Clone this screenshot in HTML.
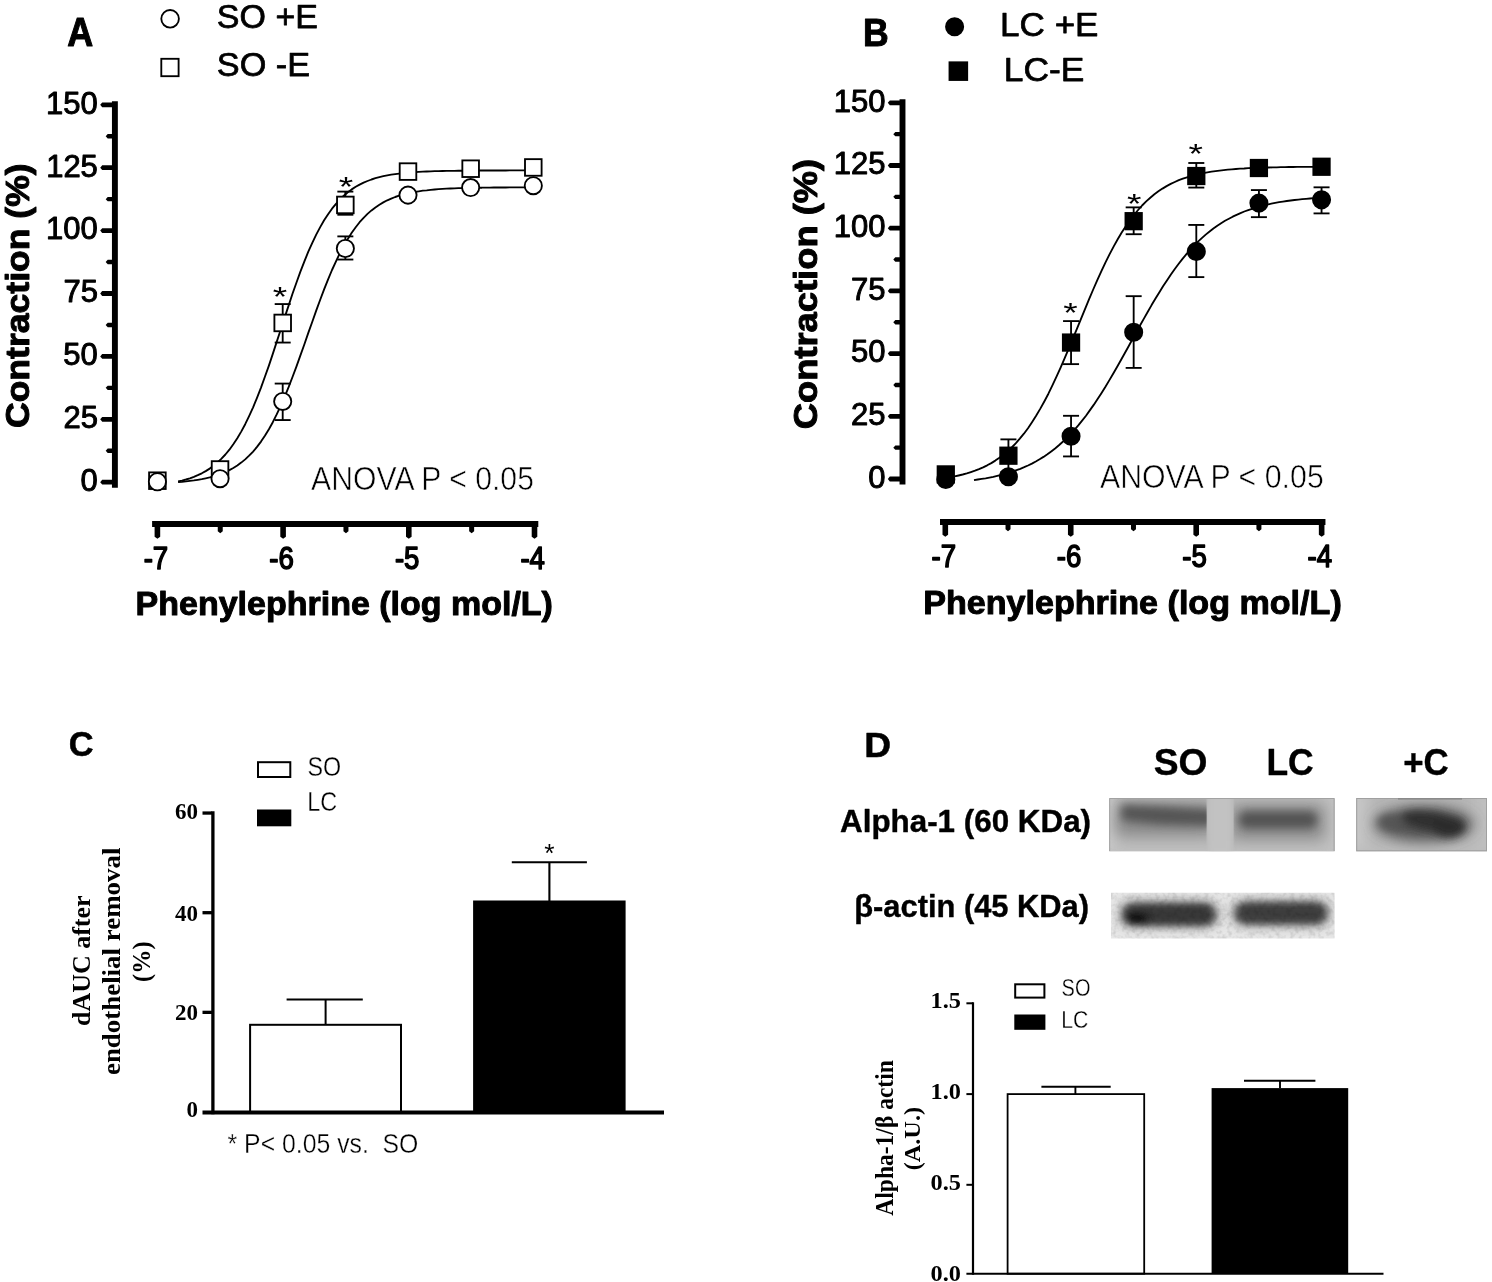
<!DOCTYPE html>
<html lang="en">
<head>
<meta charset="utf-8">
<title>Figure: Phenylephrine contraction curves, dAUC and Alpha-1 expression</title>
<style>
html,body{margin:0;padding:0;background:#fff;}
body{width:1492px;height:1282px;overflow:hidden;}
svg{display:block;}
text{font-family:"Liberation Sans", Arial, Helvetica, sans-serif;fill:#000;}
text.se{font-family:"Liberation Serif", "Times New Roman", Times, serif;}
text.b{font-weight:700;}
</style>
</head>
<body>
<svg width="1492" height="1282" viewBox="0 0 1492 1282" role="img" aria-label="Four panel figure: phenylephrine concentration-response curves (A, B), dAUC after endothelial removal (C) and Alpha-1 receptor western blot with densitometry (D)">
<rect width="1492" height="1282" fill="#fff"/>
<text class="sa b" x="67.20" y="46.00" font-size="40" textLength="25.98" lengthAdjust="spacingAndGlyphs" stroke="#000" stroke-width="1.0" stroke-linejoin="round">A</text>
<circle cx="170.10" cy="18.80" r="8.80" fill="#fff" stroke="#000" stroke-width="1.85"/>
<rect x="161.30" y="58.80" width="17.30" height="17.40" fill="#fff" stroke="#000" stroke-width="1.85"/>
<text class="sa" x="216.87" y="27.50" font-size="34" textLength="101.03" lengthAdjust="spacingAndGlyphs" stroke="#000" stroke-width="0.75" stroke-linejoin="round">SO +E</text>
<text class="sa" x="216.86" y="76.00" font-size="34" textLength="93.20" lengthAdjust="spacingAndGlyphs" stroke="#000" stroke-width="0.75" stroke-linejoin="round">SO -E</text>
<line x1="114.90" y1="101.30" x2="114.90" y2="487.70" stroke="#000" stroke-width="5.9" stroke-linecap="butt"/>
<path d="M114.90,479.80 L102.20,479.80 L100.20,482.20 L102.20,484.60 L114.90,484.60Z" fill="#000"/>
<text class="sa" x="80.56" y="491.00" font-size="31" textLength="17.24" lengthAdjust="spacingAndGlyphs" stroke="#000" stroke-width="0.95" stroke-linejoin="round">0</text>
<path d="M114.90,416.90 L102.20,416.90 L100.20,419.30 L102.20,421.70 L114.90,421.70Z" fill="#000"/>
<text class="sa" x="63.43" y="428.10" font-size="31" textLength="34.48" lengthAdjust="spacingAndGlyphs" stroke="#000" stroke-width="0.95" stroke-linejoin="round">25</text>
<path d="M114.90,354.00 L102.20,354.00 L100.20,356.40 L102.20,358.80 L114.90,358.80Z" fill="#000"/>
<text class="sa" x="63.35" y="365.20" font-size="31" textLength="34.48" lengthAdjust="spacingAndGlyphs" stroke="#000" stroke-width="0.95" stroke-linejoin="round">50</text>
<path d="M114.90,291.10 L102.20,291.10 L100.20,293.50 L102.20,295.90 L114.90,295.90Z" fill="#000"/>
<text class="sa" x="63.43" y="302.30" font-size="31" textLength="34.48" lengthAdjust="spacingAndGlyphs" stroke="#000" stroke-width="0.95" stroke-linejoin="round">75</text>
<path d="M114.90,228.20 L102.20,228.20 L100.20,230.60 L102.20,233.00 L114.90,233.00Z" fill="#000"/>
<text class="sa" x="46.07" y="239.40" font-size="31" textLength="51.72" lengthAdjust="spacingAndGlyphs" stroke="#000" stroke-width="0.95" stroke-linejoin="round">100</text>
<path d="M114.90,165.30 L102.20,165.30 L100.20,167.70 L102.20,170.10 L114.90,170.10Z" fill="#000"/>
<text class="sa" x="46.15" y="176.50" font-size="31" textLength="51.72" lengthAdjust="spacingAndGlyphs" stroke="#000" stroke-width="0.95" stroke-linejoin="round">125</text>
<path d="M114.90,102.40 L102.20,102.40 L100.20,104.80 L102.20,107.20 L114.90,107.20Z" fill="#000"/>
<text class="sa" x="46.07" y="113.60" font-size="31" textLength="51.72" lengthAdjust="spacingAndGlyphs" stroke="#000" stroke-width="0.95" stroke-linejoin="round">150</text>
<path d="M114.90,448.55 L107.70,448.55 L105.70,450.75 L107.70,452.95 L114.90,452.95Z" fill="#000"/>
<path d="M114.90,385.65 L107.70,385.65 L105.70,387.85 L107.70,390.05 L114.90,390.05Z" fill="#000"/>
<path d="M114.90,322.75 L107.70,322.75 L105.70,324.95 L107.70,327.15 L114.90,327.15Z" fill="#000"/>
<path d="M114.90,259.85 L107.70,259.85 L105.70,262.05 L107.70,264.25 L114.90,264.25Z" fill="#000"/>
<path d="M114.90,196.95 L107.70,196.95 L105.70,199.15 L107.70,201.35 L114.90,201.35Z" fill="#000"/>
<path d="M114.90,134.05 L107.70,134.05 L105.70,136.25 L107.70,138.45 L114.90,138.45Z" fill="#000"/>
<line x1="152.10" y1="524.00" x2="538.30" y2="524.00" stroke="#000" stroke-width="5.9" stroke-linecap="butt"/>
<path d="M154.60,524.00 L154.60,536.80 L157.40,538.80 L160.20,536.80 L160.20,524.00Z" fill="#000"/>
<text class="sa" x="143.63" y="569.40" font-size="31" textLength="24.53" lengthAdjust="spacingAndGlyphs" stroke="#000" stroke-width="1.5" stroke-linejoin="round">-7</text>
<path d="M280.30,524.00 L280.30,536.80 L283.10,538.80 L285.90,536.80 L285.90,524.00Z" fill="#000"/>
<text class="sa" x="269.22" y="569.40" font-size="31" textLength="24.53" lengthAdjust="spacingAndGlyphs" stroke="#000" stroke-width="1.5" stroke-linejoin="round">-6</text>
<path d="M406.00,524.00 L406.00,536.80 L408.80,538.80 L411.60,536.80 L411.60,524.00Z" fill="#000"/>
<text class="sa" x="394.89" y="569.40" font-size="31" textLength="24.53" lengthAdjust="spacingAndGlyphs" stroke="#000" stroke-width="1.5" stroke-linejoin="round">-5</text>
<path d="M531.70,524.00 L531.70,536.80 L534.50,538.80 L537.30,536.80 L537.30,524.00Z" fill="#000"/>
<text class="sa" x="520.42" y="569.40" font-size="31" textLength="24.53" lengthAdjust="spacingAndGlyphs" stroke="#000" stroke-width="1.5" stroke-linejoin="round">-4</text>
<path d="M217.75,524.00 L217.75,531.30 L220.25,533.30 L222.75,531.30 L222.75,524.00Z" fill="#000"/>
<path d="M343.45,524.00 L343.45,531.30 L345.95,533.30 L348.45,531.30 L348.45,524.00Z" fill="#000"/>
<path d="M469.15,524.00 L469.15,531.30 L471.65,533.30 L474.15,531.30 L474.15,524.00Z" fill="#000"/>
<text class="sa b" transform="translate(28.60 428.02) rotate(-90)" font-size="34" textLength="264.66" lengthAdjust="spacingAndGlyphs" stroke="#000" stroke-width="1.0" stroke-linejoin="round">Contraction (%)</text>
<text class="sa b" x="135.61" y="615.00" font-size="34" textLength="417.34" lengthAdjust="spacingAndGlyphs" stroke="#000" stroke-width="1.0" stroke-linejoin="round">Phenylephrine (log mol/L)</text>
<path d="M178.1,482.1 L182.0,481.8 L186.0,481.4 L189.9,480.9 L193.9,480.4 L197.8,479.8 L201.8,479.1 L205.7,478.3 L209.7,477.4 L213.6,476.3 L217.5,475.1 L221.5,473.7 L225.4,472.0 L229.4,470.1 L233.3,468.0 L237.3,465.5 L241.2,462.6 L245.2,459.4 L249.1,455.7 L253.1,451.6 L257.0,446.9 L261.0,441.6 L264.9,435.8 L268.9,429.3 L272.8,422.2 L276.7,414.4 L280.7,405.9 L284.6,396.9 L288.6,387.2 L292.5,377.0 L296.5,366.4 L300.4,355.4 L304.4,344.2 L308.3,332.9 L312.3,321.7 L316.2,310.6 L320.2,299.8 L324.1,289.4 L328.1,279.4 L332.0,270.0 L336.0,261.3 L339.9,253.1 L343.8,245.7 L347.8,238.9 L351.7,232.7 L355.7,227.2 L359.6,222.2 L363.6,217.8 L367.5,213.9 L371.5,210.4 L375.4,207.4 L379.4,204.7 L383.3,202.4 L387.3,200.3 L391.2,198.6 L395.2,197.0 L399.1,195.7 L403.1,194.5 L407.0,193.5 L410.9,192.7 L414.9,191.9 L418.8,191.3 L422.8,190.7 L426.7,190.3 L430.7,189.8 L434.6,189.5 L438.6,189.2 L442.5,188.9 L446.5,188.7 L450.4,188.5 L454.4,188.3 L458.3,188.2 L462.3,188.1 L466.2,188.0 L470.1,187.9 L474.1,187.8 L478.0,187.7 L482.0,187.7 L485.9,187.6 L489.9,187.6 L493.8,187.5 L497.8,187.5 L501.7,187.5 L505.7,187.5 L509.6,187.4 L513.6,187.4 L517.5,187.4 L521.5,187.4 L525.4,187.4 L529.4,187.4 L533.3,187.4" fill="none" stroke="#000" stroke-width="1.85" stroke-linejoin="round"/>
<path d="M178.1,481.5 L182.0,480.6 L186.0,479.5 L189.9,478.3 L193.9,476.8 L197.8,475.2 L201.8,473.3 L205.7,471.1 L209.7,468.6 L213.6,465.7 L217.5,462.5 L221.5,458.7 L225.4,454.5 L229.4,449.7 L233.3,444.3 L237.3,438.3 L241.2,431.6 L245.2,424.2 L249.1,416.1 L253.1,407.3 L257.0,397.8 L261.0,387.6 L264.9,376.8 L268.9,365.6 L272.8,353.9 L276.7,341.9 L280.7,329.7 L284.6,317.6 L288.6,305.6 L292.5,293.8 L296.5,282.5 L300.4,271.6 L304.4,261.3 L308.3,251.7 L312.3,242.8 L316.2,234.6 L320.2,227.1 L324.1,220.3 L328.1,214.2 L332.0,208.7 L336.0,203.8 L339.9,199.5 L343.8,195.7 L347.8,192.3 L351.7,189.4 L355.7,186.8 L359.6,184.6 L363.6,182.6 L367.5,181.0 L371.5,179.5 L375.4,178.2 L379.4,177.1 L383.3,176.2 L387.3,175.4 L391.2,174.7 L395.2,174.1 L399.1,173.6 L403.1,173.1 L407.0,172.7 L410.9,172.4 L414.9,172.1 L418.8,171.9 L422.8,171.7 L426.7,171.5 L430.7,171.3 L434.6,171.2 L438.6,171.1 L442.5,171.0 L446.5,170.9 L450.4,170.8 L454.4,170.8 L458.3,170.7 L462.3,170.7 L466.2,170.6 L470.1,170.6 L474.1,170.6 L478.0,170.5 L482.0,170.5 L485.9,170.5 L489.9,170.5 L493.8,170.5 L497.8,170.5 L501.7,170.5 L505.7,170.5 L509.6,170.4 L513.6,170.4 L517.5,170.4 L521.5,170.4 L525.4,170.4 L529.4,170.4 L533.3,170.4" fill="none" stroke="#000" stroke-width="1.85" stroke-linejoin="round"/>
<line x1="282.70" y1="304.07" x2="282.70" y2="342.56" stroke="#000" stroke-width="1.85" stroke-linecap="butt"/>
<line x1="274.70" y1="304.07" x2="290.70" y2="304.07" stroke="#000" stroke-width="1.85" stroke-linecap="butt"/>
<line x1="274.70" y1="342.56" x2="290.70" y2="342.56" stroke="#000" stroke-width="1.85" stroke-linecap="butt"/>
<line x1="345.35" y1="191.60" x2="345.35" y2="214.75" stroke="#000" stroke-width="1.85" stroke-linecap="butt"/>
<line x1="337.35" y1="191.60" x2="353.35" y2="191.60" stroke="#000" stroke-width="1.85" stroke-linecap="butt"/>
<line x1="337.35" y1="214.75" x2="353.35" y2="214.75" stroke="#000" stroke-width="1.85" stroke-linecap="butt"/>
<rect x="149.10" y="472.39" width="16.60" height="16.60" fill="#fff" stroke="#000" stroke-width="1.85"/>
<rect x="211.75" y="461.19" width="16.60" height="16.60" fill="#fff" stroke="#000" stroke-width="1.85"/>
<rect x="274.40" y="314.64" width="16.60" height="16.60" fill="#fff" stroke="#000" stroke-width="1.85"/>
<rect x="337.05" y="196.64" width="16.60" height="16.60" fill="#fff" stroke="#000" stroke-width="1.85"/>
<rect x="399.70" y="163.30" width="16.60" height="16.60" fill="#fff" stroke="#000" stroke-width="1.85"/>
<rect x="462.35" y="160.41" width="16.60" height="16.60" fill="#fff" stroke="#000" stroke-width="1.85"/>
<rect x="525.00" y="159.15" width="16.60" height="16.60" fill="#fff" stroke="#000" stroke-width="1.85"/>
<line x1="282.70" y1="383.57" x2="282.70" y2="420.05" stroke="#000" stroke-width="1.85" stroke-linecap="butt"/>
<line x1="274.70" y1="383.57" x2="290.70" y2="383.57" stroke="#000" stroke-width="1.85" stroke-linecap="butt"/>
<line x1="274.70" y1="420.05" x2="290.70" y2="420.05" stroke="#000" stroke-width="1.85" stroke-linecap="butt"/>
<line x1="345.35" y1="236.39" x2="345.35" y2="259.53" stroke="#000" stroke-width="1.85" stroke-linecap="butt"/>
<line x1="337.35" y1="236.39" x2="353.35" y2="236.39" stroke="#000" stroke-width="1.85" stroke-linecap="butt"/>
<line x1="337.35" y1="259.53" x2="353.35" y2="259.53" stroke="#000" stroke-width="1.85" stroke-linecap="butt"/>
<circle cx="157.40" cy="481.70" r="8.60" fill="#fff" stroke="#000" stroke-width="1.85"/>
<circle cx="220.05" cy="478.68" r="8.60" fill="#fff" stroke="#000" stroke-width="1.85"/>
<circle cx="282.70" cy="401.44" r="8.60" fill="#fff" stroke="#000" stroke-width="1.85"/>
<circle cx="345.35" cy="248.46" r="8.60" fill="#fff" stroke="#000" stroke-width="1.85"/>
<circle cx="408.00" cy="195.12" r="8.60" fill="#fff" stroke="#000" stroke-width="1.85"/>
<circle cx="470.65" cy="187.58" r="8.60" fill="#fff" stroke="#000" stroke-width="1.85"/>
<circle cx="533.30" cy="185.69" r="8.60" fill="#fff" stroke="#000" stroke-width="1.85"/>
<text class="sa" x="272.65" y="305.65" font-size="28.00" textLength="14.47" lengthAdjust="spacingAndGlyphs">*</text>
<text class="sa" x="338.65" y="195.55" font-size="28.00" textLength="14.47" lengthAdjust="spacingAndGlyphs">*</text>
<text class="sa" x="311.12" y="489.80" font-size="32.5" textLength="222.84" lengthAdjust="spacingAndGlyphs" stroke="#fff" stroke-width="0.6" paint-order="fill">ANOVA P &lt; 0.05</text>
<text class="sa b" x="862.90" y="46.20" font-size="38" textLength="25.69" lengthAdjust="spacingAndGlyphs" stroke="#000" stroke-width="1.0" stroke-linejoin="round">B</text>
<circle cx="954.60" cy="26.70" r="8.60" fill="#000" stroke="#000" stroke-width="1.85"/>
<rect x="949.50" y="62.30" width="17.70" height="17.70" fill="#000" stroke="#000" stroke-width="1.85"/>
<text class="sa" x="1000.11" y="36.40" font-size="34" textLength="98.37" lengthAdjust="spacingAndGlyphs" stroke="#000" stroke-width="0.75" stroke-linejoin="round">LC +E</text>
<text class="sa" x="1003.88" y="80.90" font-size="34" textLength="80.56" lengthAdjust="spacingAndGlyphs" stroke="#000" stroke-width="0.75" stroke-linejoin="round">LC-E</text>
<line x1="902.50" y1="99.30" x2="902.50" y2="484.50" stroke="#000" stroke-width="5.9" stroke-linecap="butt"/>
<path d="M902.50,476.60 L889.80,476.60 L887.80,479.00 L889.80,481.40 L902.50,481.40Z" fill="#000"/>
<text class="sa" x="868.16" y="487.80" font-size="31" textLength="17.24" lengthAdjust="spacingAndGlyphs" stroke="#000" stroke-width="0.95" stroke-linejoin="round">0</text>
<path d="M902.50,413.90 L889.80,413.90 L887.80,416.30 L889.80,418.70 L902.50,418.70Z" fill="#000"/>
<text class="sa" x="851.03" y="425.10" font-size="31" textLength="34.48" lengthAdjust="spacingAndGlyphs" stroke="#000" stroke-width="0.95" stroke-linejoin="round">25</text>
<path d="M902.50,351.20 L889.80,351.20 L887.80,353.60 L889.80,356.00 L902.50,356.00Z" fill="#000"/>
<text class="sa" x="850.95" y="362.40" font-size="31" textLength="34.48" lengthAdjust="spacingAndGlyphs" stroke="#000" stroke-width="0.95" stroke-linejoin="round">50</text>
<path d="M902.50,288.50 L889.80,288.50 L887.80,290.90 L889.80,293.30 L902.50,293.30Z" fill="#000"/>
<text class="sa" x="851.03" y="299.70" font-size="31" textLength="34.48" lengthAdjust="spacingAndGlyphs" stroke="#000" stroke-width="0.95" stroke-linejoin="round">75</text>
<path d="M902.50,225.80 L889.80,225.80 L887.80,228.20 L889.80,230.60 L902.50,230.60Z" fill="#000"/>
<text class="sa" x="833.67" y="237.00" font-size="31" textLength="51.72" lengthAdjust="spacingAndGlyphs" stroke="#000" stroke-width="0.95" stroke-linejoin="round">100</text>
<path d="M902.50,163.10 L889.80,163.10 L887.80,165.50 L889.80,167.90 L902.50,167.90Z" fill="#000"/>
<text class="sa" x="833.75" y="174.30" font-size="31" textLength="51.72" lengthAdjust="spacingAndGlyphs" stroke="#000" stroke-width="0.95" stroke-linejoin="round">125</text>
<path d="M902.50,100.40 L889.80,100.40 L887.80,102.80 L889.80,105.20 L902.50,105.20Z" fill="#000"/>
<text class="sa" x="833.67" y="111.60" font-size="31" textLength="51.72" lengthAdjust="spacingAndGlyphs" stroke="#000" stroke-width="0.95" stroke-linejoin="round">150</text>
<path d="M902.50,445.45 L895.30,445.45 L893.30,447.65 L895.30,449.85 L902.50,449.85Z" fill="#000"/>
<path d="M902.50,382.75 L895.30,382.75 L893.30,384.95 L895.30,387.15 L902.50,387.15Z" fill="#000"/>
<path d="M902.50,320.05 L895.30,320.05 L893.30,322.25 L895.30,324.45 L902.50,324.45Z" fill="#000"/>
<path d="M902.50,257.35 L895.30,257.35 L893.30,259.55 L895.30,261.75 L902.50,261.75Z" fill="#000"/>
<path d="M902.50,194.65 L895.30,194.65 L893.30,196.85 L895.30,199.05 L902.50,199.05Z" fill="#000"/>
<path d="M902.50,131.95 L895.30,131.95 L893.30,134.15 L895.30,136.35 L902.50,136.35Z" fill="#000"/>
<line x1="940.00" y1="522.00" x2="1325.45" y2="522.00" stroke="#000" stroke-width="5.9" stroke-linecap="butt"/>
<path d="M942.50,522.00 L942.50,534.80 L945.30,536.80 L948.10,534.80 L948.10,522.00Z" fill="#000"/>
<text class="sa" x="931.53" y="567.40" font-size="31" textLength="24.53" lengthAdjust="spacingAndGlyphs" stroke="#000" stroke-width="1.5" stroke-linejoin="round">-7</text>
<path d="M1067.95,522.00 L1067.95,534.80 L1070.75,536.80 L1073.55,534.80 L1073.55,522.00Z" fill="#000"/>
<text class="sa" x="1056.87" y="567.40" font-size="31" textLength="24.53" lengthAdjust="spacingAndGlyphs" stroke="#000" stroke-width="1.5" stroke-linejoin="round">-6</text>
<path d="M1193.40,522.00 L1193.40,534.80 L1196.20,536.80 L1199.00,534.80 L1199.00,522.00Z" fill="#000"/>
<text class="sa" x="1182.29" y="567.40" font-size="31" textLength="24.53" lengthAdjust="spacingAndGlyphs" stroke="#000" stroke-width="1.5" stroke-linejoin="round">-5</text>
<path d="M1318.85,522.00 L1318.85,534.80 L1321.65,536.80 L1324.45,534.80 L1324.45,522.00Z" fill="#000"/>
<text class="sa" x="1307.57" y="567.40" font-size="31" textLength="24.53" lengthAdjust="spacingAndGlyphs" stroke="#000" stroke-width="1.5" stroke-linejoin="round">-4</text>
<path d="M1005.52,522.00 L1005.52,529.30 L1008.02,531.30 L1010.52,529.30 L1010.52,522.00Z" fill="#000"/>
<path d="M1130.97,522.00 L1130.97,529.30 L1133.47,531.30 L1135.97,529.30 L1135.97,522.00Z" fill="#000"/>
<path d="M1256.42,522.00 L1256.42,529.30 L1258.92,531.30 L1261.42,529.30 L1261.42,522.00Z" fill="#000"/>
<text class="sa b" transform="translate(817.00 429.25) rotate(-90)" font-size="34" textLength="270.43" lengthAdjust="spacingAndGlyphs" stroke="#000" stroke-width="1.0" stroke-linejoin="round">Contraction (%)</text>
<text class="sa b" x="923.20" y="613.50" font-size="34" textLength="418.55" lengthAdjust="spacingAndGlyphs" stroke="#000" stroke-width="1.0" stroke-linejoin="round">Phenylephrine (log mol/L)</text>
<path d="M974.0,480.1 L977.8,479.5 L981.7,478.9 L985.6,478.3 L989.4,477.6 L993.3,476.8 L997.2,475.9 L1001.0,475.0 L1004.9,473.9 L1008.7,472.8 L1012.6,471.6 L1016.5,470.2 L1020.3,468.8 L1024.2,467.2 L1028.0,465.5 L1031.9,463.6 L1035.8,461.5 L1039.6,459.3 L1043.5,456.9 L1047.4,454.3 L1051.2,451.5 L1055.1,448.5 L1058.9,445.3 L1062.8,441.8 L1066.7,438.1 L1070.5,434.1 L1074.4,429.9 L1078.3,425.4 L1082.1,420.7 L1086.0,415.7 L1089.8,410.4 L1093.7,404.9 L1097.6,399.1 L1101.4,393.2 L1105.3,387.0 L1109.1,380.6 L1113.0,374.0 L1116.9,367.3 L1120.7,360.5 L1124.6,353.5 L1128.5,346.5 L1132.3,339.5 L1136.2,332.5 L1140.0,325.5 L1143.9,318.6 L1147.8,311.8 L1151.6,305.1 L1155.5,298.6 L1159.4,292.3 L1163.2,286.1 L1167.1,280.2 L1170.9,274.5 L1174.8,269.0 L1178.7,263.8 L1182.5,258.9 L1186.4,254.2 L1190.2,249.8 L1194.1,245.6 L1198.0,241.7 L1201.8,238.1 L1205.7,234.6 L1209.6,231.5 L1213.4,228.5 L1217.3,225.7 L1221.1,223.2 L1225.0,220.8 L1228.9,218.7 L1232.7,216.7 L1236.6,214.8 L1240.5,213.1 L1244.3,211.5 L1248.2,210.1 L1252.0,208.8 L1255.9,207.6 L1259.8,206.5 L1263.6,205.5 L1267.5,204.6 L1271.3,203.7 L1275.2,202.9 L1279.1,202.2 L1282.9,201.6 L1286.8,201.0 L1290.7,200.5 L1294.5,200.0 L1298.4,199.6 L1302.2,199.2 L1306.1,198.8 L1310.0,198.5 L1313.8,198.2 L1317.7,197.9 L1321.5,197.6" fill="none" stroke="#000" stroke-width="1.85" stroke-linejoin="round"/>
<path d="M954.6,476.4 L958.6,475.5 L962.7,474.5 L966.8,473.4 L970.9,472.1 L975.0,470.7 L979.0,469.1 L983.1,467.3 L987.2,465.3 L991.3,463.1 L995.3,460.6 L999.4,457.8 L1003.5,454.7 L1007.6,451.3 L1011.7,447.5 L1015.7,443.3 L1019.8,438.7 L1023.9,433.7 L1028.0,428.2 L1032.0,422.2 L1036.1,415.8 L1040.2,408.9 L1044.3,401.5 L1048.4,393.7 L1052.4,385.4 L1056.5,376.7 L1060.6,367.6 L1064.7,358.2 L1068.7,348.6 L1072.8,338.7 L1076.9,328.8 L1081.0,318.8 L1085.1,308.9 L1089.1,299.1 L1093.2,289.5 L1097.3,280.2 L1101.4,271.2 L1105.4,262.6 L1109.5,254.4 L1113.6,246.6 L1117.7,239.3 L1121.7,232.5 L1125.8,226.2 L1129.9,220.3 L1134.0,214.9 L1138.1,210.0 L1142.1,205.5 L1146.2,201.4 L1150.3,197.7 L1154.4,194.3 L1158.4,191.3 L1162.5,188.6 L1166.6,186.1 L1170.7,183.9 L1174.8,182.0 L1178.8,180.2 L1182.9,178.7 L1187.0,177.3 L1191.1,176.1 L1195.1,175.0 L1199.2,174.0 L1203.3,173.1 L1207.4,172.4 L1211.5,171.7 L1215.5,171.1 L1219.6,170.6 L1223.7,170.1 L1227.8,169.7 L1231.8,169.3 L1235.9,169.0 L1240.0,168.7 L1244.1,168.5 L1248.2,168.2 L1252.2,168.0 L1256.3,167.9 L1260.4,167.7 L1264.5,167.6 L1268.5,167.5 L1272.6,167.4 L1276.7,167.3 L1280.8,167.2 L1284.9,167.1 L1288.9,167.0 L1293.0,167.0 L1297.1,166.9 L1301.2,166.9 L1305.2,166.9 L1309.3,166.8 L1313.4,166.8 L1317.5,166.8 L1321.5,166.7" fill="none" stroke="#000" stroke-width="1.85" stroke-linejoin="round"/>
<line x1="1071.05" y1="415.80" x2="1071.05" y2="456.43" stroke="#000" stroke-width="1.85" stroke-linecap="butt"/>
<line x1="1063.05" y1="415.80" x2="1079.05" y2="415.80" stroke="#000" stroke-width="1.85" stroke-linecap="butt"/>
<line x1="1063.05" y1="456.43" x2="1079.05" y2="456.43" stroke="#000" stroke-width="1.85" stroke-linecap="butt"/>
<line x1="1133.67" y1="296.17" x2="1133.67" y2="367.90" stroke="#000" stroke-width="1.85" stroke-linecap="butt"/>
<line x1="1125.67" y1="296.17" x2="1141.67" y2="296.17" stroke="#000" stroke-width="1.85" stroke-linecap="butt"/>
<line x1="1125.67" y1="367.90" x2="1141.67" y2="367.90" stroke="#000" stroke-width="1.85" stroke-linecap="butt"/>
<line x1="1196.30" y1="224.94" x2="1196.30" y2="277.11" stroke="#000" stroke-width="1.85" stroke-linecap="butt"/>
<line x1="1188.30" y1="224.94" x2="1204.30" y2="224.94" stroke="#000" stroke-width="1.85" stroke-linecap="butt"/>
<line x1="1188.30" y1="277.11" x2="1204.30" y2="277.11" stroke="#000" stroke-width="1.85" stroke-linecap="butt"/>
<line x1="1258.92" y1="190.08" x2="1258.92" y2="217.16" stroke="#000" stroke-width="1.85" stroke-linecap="butt"/>
<line x1="1250.92" y1="190.08" x2="1266.92" y2="190.08" stroke="#000" stroke-width="1.85" stroke-linecap="butt"/>
<line x1="1250.92" y1="217.16" x2="1266.92" y2="217.16" stroke="#000" stroke-width="1.85" stroke-linecap="butt"/>
<line x1="1321.55" y1="187.32" x2="1321.55" y2="213.40" stroke="#000" stroke-width="1.85" stroke-linecap="butt"/>
<line x1="1313.55" y1="187.32" x2="1329.55" y2="187.32" stroke="#000" stroke-width="1.85" stroke-linecap="butt"/>
<line x1="1313.55" y1="213.40" x2="1329.55" y2="213.40" stroke="#000" stroke-width="1.85" stroke-linecap="butt"/>
<circle cx="945.80" cy="479.50" r="8.60" fill="#000" stroke="#000" stroke-width="1.85"/>
<circle cx="1008.42" cy="476.74" r="8.60" fill="#000" stroke="#000" stroke-width="1.85"/>
<circle cx="1071.05" cy="436.19" r="8.60" fill="#000" stroke="#000" stroke-width="1.85"/>
<circle cx="1133.67" cy="332.28" r="8.60" fill="#000" stroke="#000" stroke-width="1.85"/>
<circle cx="1196.30" cy="251.40" r="8.60" fill="#000" stroke="#000" stroke-width="1.85"/>
<circle cx="1258.92" cy="203.12" r="8.60" fill="#000" stroke="#000" stroke-width="1.85"/>
<circle cx="1321.55" cy="199.86" r="8.60" fill="#000" stroke="#000" stroke-width="1.85"/>
<line x1="1008.42" y1="439.37" x2="1008.42" y2="471.98" stroke="#000" stroke-width="1.85" stroke-linecap="butt"/>
<line x1="1000.42" y1="439.37" x2="1016.42" y2="439.37" stroke="#000" stroke-width="1.85" stroke-linecap="butt"/>
<line x1="1000.42" y1="471.98" x2="1016.42" y2="471.98" stroke="#000" stroke-width="1.85" stroke-linecap="butt"/>
<line x1="1071.05" y1="321.10" x2="1071.05" y2="364.13" stroke="#000" stroke-width="1.85" stroke-linecap="butt"/>
<line x1="1063.05" y1="321.10" x2="1079.05" y2="321.10" stroke="#000" stroke-width="1.85" stroke-linecap="butt"/>
<line x1="1063.05" y1="364.13" x2="1079.05" y2="364.13" stroke="#000" stroke-width="1.85" stroke-linecap="butt"/>
<line x1="1133.67" y1="207.38" x2="1133.67" y2="234.22" stroke="#000" stroke-width="1.85" stroke-linecap="butt"/>
<line x1="1125.67" y1="207.38" x2="1141.67" y2="207.38" stroke="#000" stroke-width="1.85" stroke-linecap="butt"/>
<line x1="1125.67" y1="234.22" x2="1141.67" y2="234.22" stroke="#000" stroke-width="1.85" stroke-linecap="butt"/>
<line x1="1196.30" y1="162.99" x2="1196.30" y2="187.57" stroke="#000" stroke-width="1.85" stroke-linecap="butt"/>
<line x1="1188.30" y1="162.99" x2="1204.30" y2="162.99" stroke="#000" stroke-width="1.85" stroke-linecap="butt"/>
<line x1="1188.30" y1="187.57" x2="1204.30" y2="187.57" stroke="#000" stroke-width="1.85" stroke-linecap="butt"/>
<rect x="937.60" y="466.21" width="16.40" height="16.40" fill="#000" stroke="#000" stroke-width="1.85"/>
<rect x="1000.22" y="447.50" width="16.40" height="16.40" fill="#000" stroke="#000" stroke-width="1.85"/>
<rect x="1062.85" y="334.36" width="16.40" height="16.40" fill="#000" stroke="#000" stroke-width="1.85"/>
<rect x="1125.47" y="212.98" width="16.40" height="16.40" fill="#000" stroke="#000" stroke-width="1.85"/>
<rect x="1188.10" y="167.83" width="16.40" height="16.40" fill="#000" stroke="#000" stroke-width="1.85"/>
<rect x="1250.72" y="159.81" width="16.40" height="16.40" fill="#000" stroke="#000" stroke-width="1.85"/>
<rect x="1313.35" y="158.55" width="16.40" height="16.40" fill="#000" stroke="#000" stroke-width="1.85"/>
<text class="sa" x="1063.15" y="321.95" font-size="28.00" textLength="14.47" lengthAdjust="spacingAndGlyphs">*</text>
<text class="sa" x="1126.95" y="213.15" font-size="28.00" textLength="14.47" lengthAdjust="spacingAndGlyphs">*</text>
<text class="sa" x="1188.55" y="163.05" font-size="28.00" textLength="14.47" lengthAdjust="spacingAndGlyphs">*</text>
<text class="sa" x="1099.92" y="487.50" font-size="32.5" textLength="223.85" lengthAdjust="spacingAndGlyphs" stroke="#fff" stroke-width="0.6" paint-order="fill">ANOVA P &lt; 0.05</text>
<text class="sa b" x="68.63" y="756.30" font-size="35" textLength="24.81" lengthAdjust="spacingAndGlyphs" stroke="#000" stroke-width="0.5" stroke-linejoin="round">C</text>
<rect x="258.00" y="762.20" width="32.30" height="14.80" fill="#fff" stroke="#000" stroke-width="2"/>
<rect x="257.00" y="809.50" width="34.30" height="16.80" fill="#000"/>
<text class="sa" x="307.45" y="776.00" font-size="27.5" textLength="33.65" lengthAdjust="spacingAndGlyphs" stroke="#fff" stroke-width="0.3" paint-order="fill">SO</text>
<text class="sa" x="307.37" y="811.10" font-size="27.5" textLength="29.88" lengthAdjust="spacingAndGlyphs" stroke="#fff" stroke-width="0.3" paint-order="fill">LC</text>
<rect x="250.10" y="1024.80" width="150.90" height="87.20" fill="#fff" stroke="#000" stroke-width="2"/>
<line x1="325.60" y1="1024.80" x2="325.60" y2="999.50" stroke="#000" stroke-width="2" stroke-linecap="butt"/>
<line x1="286.60" y1="999.50" x2="362.80" y2="999.50" stroke="#000" stroke-width="2" stroke-linecap="butt"/>
<rect x="473.10" y="900.50" width="152.50" height="211.50" fill="#000"/>
<line x1="549.40" y1="901.00" x2="549.40" y2="862.30" stroke="#000" stroke-width="2.1" stroke-linecap="butt"/>
<line x1="511.80" y1="862.30" x2="586.90" y2="862.30" stroke="#000" stroke-width="2.1" stroke-linecap="butt"/>
<line x1="212.90" y1="811.30" x2="212.90" y2="1114.20" stroke="#000" stroke-width="3.3" stroke-linecap="butt"/>
<line x1="202.50" y1="1112.50" x2="664.00" y2="1112.50" stroke="#000" stroke-width="3.8" stroke-linecap="butt"/>
<text class="se b" x="186.56" y="1117.40" font-size="23" textLength="11.50" lengthAdjust="spacingAndGlyphs">0</text>
<line x1="202.50" y1="1012.35" x2="212.00" y2="1012.35" stroke="#000" stroke-width="3.3" stroke-linecap="butt"/>
<text class="se b" x="175.06" y="1019.90" font-size="23" textLength="23.00" lengthAdjust="spacingAndGlyphs">20</text>
<line x1="202.50" y1="912.70" x2="212.00" y2="912.70" stroke="#000" stroke-width="3.3" stroke-linecap="butt"/>
<text class="se b" x="175.06" y="920.90" font-size="23" textLength="23.00" lengthAdjust="spacingAndGlyphs">40</text>
<line x1="202.50" y1="813.05" x2="212.00" y2="813.05" stroke="#000" stroke-width="3.3" stroke-linecap="butt"/>
<text class="se b" x="175.06" y="819.10" font-size="23" textLength="23.00" lengthAdjust="spacingAndGlyphs">60</text>
<text class="sa" x="544.24" y="861.94" font-size="24.86" textLength="10.31" lengthAdjust="spacingAndGlyphs">*</text>
<text class="sa" x="227.57" y="1152.80" font-size="27.5" textLength="190.84" lengthAdjust="spacingAndGlyphs" stroke="#fff" stroke-width="0.35" paint-order="fill" xml:space="preserve">* P&lt; 0.05 vs.  SO</text>
<text class="se b" transform="translate(90.20 1026.04) rotate(-90)" font-size="26" textLength="130.60" lengthAdjust="spacingAndGlyphs">dAUC after</text>
<text class="se b" transform="translate(120.20 1075.04) rotate(-90)" font-size="26" textLength="227.44" lengthAdjust="spacingAndGlyphs">endothelial removal</text>
<text class="se b" transform="translate(150.00 981.89) rotate(-90)" font-size="26" textLength="40.34" lengthAdjust="spacingAndGlyphs">(%)</text>
<text class="sa b" x="864.19" y="756.80" font-size="34.5" textLength="26.88" lengthAdjust="spacingAndGlyphs" stroke="#000" stroke-width="0.5" stroke-linejoin="round">D</text>
<text class="sa b" x="1153.68" y="774.60" font-size="37.5" textLength="53.79" lengthAdjust="spacingAndGlyphs" stroke="#000" stroke-width="0.4" stroke-linejoin="round">SO</text>
<text class="sa b" x="1266.41" y="774.60" font-size="37.5" textLength="47.29" lengthAdjust="spacingAndGlyphs" stroke="#000" stroke-width="0.4" stroke-linejoin="round">LC</text>
<text class="sa b" x="1403.22" y="774.60" font-size="37.5" textLength="45.49" lengthAdjust="spacingAndGlyphs" stroke="#000" stroke-width="0.4" stroke-linejoin="round">+C</text>
<text class="sa b" x="840.02" y="832.00" font-size="32" textLength="251.01" lengthAdjust="spacingAndGlyphs" stroke="#000" stroke-width="0.4" stroke-linejoin="round">Alpha-1 (60 KDa)</text>
<text class="sa b" x="854.24" y="917.10" font-size="32" textLength="234.79" lengthAdjust="spacingAndGlyphs" stroke="#000" stroke-width="0.4" stroke-linejoin="round">β-actin (45 KDa)</text>
<defs>
<filter id="bl" x="-30%" y="-100%" width="160%" height="300%"><feGaussianBlur stdDeviation="4.2 4.4"/></filter>
<filter id="blh" x="-40%" y="-150%" width="180%" height="400%"><feGaussianBlur stdDeviation="8 7"/></filter>
<filter id="bl2" x="-30%" y="-100%" width="160%" height="300%"><feGaussianBlur stdDeviation="4 3.6"/></filter>
<filter id="bg" x="-30%" y="-30%" width="160%" height="160%"><feGaussianBlur stdDeviation="7 6"/></filter>
<filter id="nz" x="0" y="0" width="100%" height="100%"><feTurbulence type="fractalNoise" baseFrequency="0.22" numOctaves="2" seed="7" result="n"/><feColorMatrix type="matrix" values="0 0 0 0 0  0 0 0 0 0  0 0 0 0 0  0.9 0 0 0 -0.38"/></filter>
<filter id="gp" x="-30%" y="-30%" width="160%" height="160%"><feGaussianBlur stdDeviation="2.2 0.1"/></filter>
<clipPath id="c1"><rect x="1109.2" y="798" width="225.4" height="53.2"/></clipPath>
<clipPath id="c1a"><rect x="1109.2" y="798" width="97.4" height="53.2"/></clipPath>
<clipPath id="c1b"><rect x="1233.6" y="798" width="101" height="53.2"/></clipPath>
<clipPath id="c2"><rect x="1356.2" y="798" width="130.8" height="53.2"/></clipPath>
<clipPath id="c3"><rect x="1111" y="892.8" width="223.6" height="45.7"/></clipPath>
</defs>
<g clip-path="url(#c1)"><rect x="1105" y="794" width="234" height="62" fill="#bbbbbb"/><g filter="url(#bg)"><rect x="1094" y="790" width="20" height="70" fill="#cdcdcd"/><rect x="1327" y="790" width="18" height="70" fill="#c3c3c3"/><rect x="1100" y="848" width="240" height="14" fill="#c0c0c0"/></g><g clip-path="url(#c1a)"><g filter="url(#blh)"><rect x="1116" y="802" width="98" height="34" fill="#898989"/></g><g filter="url(#bl)"><path d="M1123,806.5 L1160,808 L1215,811.5 L1215,824.5 L1160,823 L1123,819Z" fill="#555555" stroke="#555555" stroke-width="2.5" stroke-linejoin="round"/></g></g><g clip-path="url(#c1b)"><g filter="url(#blh)"><rect x="1232" y="805" width="92" height="34" fill="#898989"/></g><g filter="url(#bl)"><rect x="1239" y="811.5" width="78" height="16.5" rx="8" fill="#525252"/></g></g><rect x="1209" y="790" width="22.5" height="70" fill="#c4c4c4" opacity="0.75" filter="url(#gp)"/></g>
<path d="M1109.7,851 V798.5 H1334.1 V851" fill="none" stroke="#a2a2a2" stroke-width="1"/>
<g clip-path="url(#c2)"><rect x="1352" y="794" width="140" height="62" fill="#b6b6b6"/><g filter="url(#bg)"><rect x="1346" y="790" width="22" height="70" fill="#c6c6c6"/><rect x="1474" y="790" width="22" height="70" fill="#bfbfbf"/><rect x="1352" y="846" width="140" height="14" fill="#bdbdbd"/></g><g filter="url(#blh)"><ellipse cx="1424" cy="824" rx="48" ry="17" fill="#505050"/></g><g filter="url(#bl)"><ellipse cx="1391" cy="822" rx="13" ry="7" fill="#555555"/><ellipse cx="1432" cy="821.5" rx="31" ry="9" transform="rotate(9 1432 821.5)" fill="#2e2e2e"/><ellipse cx="1449" cy="827" rx="16" ry="10" fill="#2c2c2c"/></g></g>
<rect x="1356.7" y="798.5" width="129.8" height="52.2" fill="none" stroke="#a0a0a0" stroke-width="1"/>
<rect x="1398" y="798" width="64" height="1.6" fill="#8a8a8a"/>
<g clip-path="url(#c3)"><rect x="1106" y="889" width="234" height="54" fill="#e8e8e8"/><g filter="url(#blh)"><rect x="1124" y="903" width="90" height="22" fill="#888888"/><rect x="1236" y="902" width="90" height="22" fill="#888888"/></g><g filter="url(#bl2)"><rect x="1122.5" y="903.5" width="93" height="22" rx="10" fill="#383838"/><ellipse cx="1137" cy="918" rx="12" ry="6" fill="#101010"/><rect x="1235" y="902.5" width="92" height="21.5" rx="10" fill="#3e3e3e"/></g><rect x="1106" y="889" width="234" height="54" fill="#fff" filter="url(#nz)" opacity="0.28"/></g>
<rect x="1007.60" y="1094.10" width="136.60" height="179.60" fill="#fff" stroke="#000" stroke-width="1.8"/>
<line x1="1075.40" y1="1094.10" x2="1075.40" y2="1086.80" stroke="#000" stroke-width="1.9" stroke-linecap="butt"/>
<line x1="1041.40" y1="1086.80" x2="1110.70" y2="1086.80" stroke="#000" stroke-width="1.9" stroke-linecap="butt"/>
<rect x="1211.60" y="1088.10" width="136.60" height="185.60" fill="#000"/>
<line x1="1280.00" y1="1088.00" x2="1280.00" y2="1080.70" stroke="#000" stroke-width="1.9" stroke-linecap="butt"/>
<line x1="1244.00" y1="1080.70" x2="1315.40" y2="1080.70" stroke="#000" stroke-width="1.9" stroke-linecap="butt"/>
<line x1="973.00" y1="1002.30" x2="973.00" y2="1274.70" stroke="#000" stroke-width="2.2" stroke-linecap="butt"/>
<line x1="966.40" y1="1273.70" x2="1383.50" y2="1273.70" stroke="#000" stroke-width="2.0" stroke-linecap="butt"/>
<text class="se b" x="930.64" y="1280.50" font-size="22.5" textLength="30.38" lengthAdjust="spacingAndGlyphs">0.0</text>
<line x1="966.40" y1="1184.80" x2="973.00" y2="1184.80" stroke="#000" stroke-width="2.0" stroke-linecap="butt"/>
<text class="se b" x="930.64" y="1190.10" font-size="22.5" textLength="30.38" lengthAdjust="spacingAndGlyphs">0.5</text>
<line x1="966.40" y1="1094.10" x2="973.00" y2="1094.10" stroke="#000" stroke-width="2.0" stroke-linecap="butt"/>
<text class="se b" x="930.64" y="1098.70" font-size="22.5" textLength="30.38" lengthAdjust="spacingAndGlyphs">1.0</text>
<line x1="966.40" y1="1003.30" x2="973.00" y2="1003.30" stroke="#000" stroke-width="2.0" stroke-linecap="butt"/>
<text class="se b" x="930.64" y="1008.20" font-size="22.5" textLength="30.38" lengthAdjust="spacingAndGlyphs">1.5</text>
<rect x="1015.20" y="984.30" width="29.20" height="13.30" fill="#fff" stroke="#000" stroke-width="2.0"/>
<rect x="1014.30" y="1014.50" width="31.10" height="15.30" fill="#000"/>
<text class="sa" x="1061.60" y="996.20" font-size="24" textLength="28.84" lengthAdjust="spacingAndGlyphs" stroke="#fff" stroke-width="0.3" paint-order="fill">SO</text>
<text class="sa" x="1061.25" y="1027.50" font-size="24" textLength="27.12" lengthAdjust="spacingAndGlyphs" stroke="#fff" stroke-width="0.3" paint-order="fill">LC</text>
<text class="se b" transform="translate(893.00 1215.64) rotate(-90)" font-size="25" textLength="155.41" lengthAdjust="spacingAndGlyphs">Alpha-1/β actin</text>
<text class="se b" transform="translate(919.60 1170.29) rotate(-90)" font-size="24" textLength="63.33" lengthAdjust="spacingAndGlyphs">(A.U.)</text>
</svg>
</body>
</html>
